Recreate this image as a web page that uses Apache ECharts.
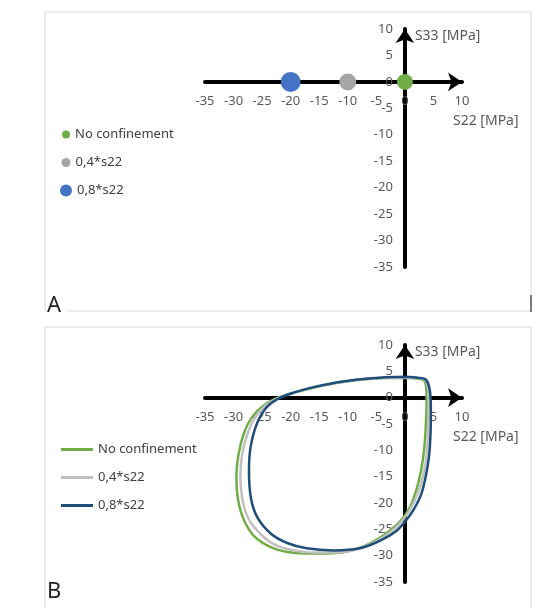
<!DOCTYPE html>
<html>
<head>
<meta charset="utf-8">
<script src="https://cdn.jsdelivr.net/npm/echarts@6/dist/echarts.min.js"></script>
<style>
html, body { margin: 0; padding: 0; background: #fff; }
#chart { width: 541px; height: 608px; }
</style>
</head>
<body>
<div id="chart"></div>
<script>
// series names (same for both panels)
var names = ['No confinement', '0,4*s22', '0,8*s22'];

// panel A : starting points of each load case
var startX = [0, -10, -20];
var startY = [0, 0, 0];

// panel B : failure envelopes
var greenX = [0, 2.5, 3.4, 3.75, 3.8, 3.75, 3.4, 2.8, 1.9, 0.8, -0.3, -1.5, -4.4, -7.9, -12, -16, -20.6, -23.5, -26.4, -28.2, -29.2, -29.5, -29.1, -28.2, -26.7, -24.5, -22.0, -18.9, -16, -13.1, -10.2, -7.3, -4.4, 0];
var greenY = [3.8, 3.6, 3.2, 1.8, 0, -3.3, -9.6, -14, -17.9, -21.0, -22.8, -24.2, -26.6, -28.5, -29.5, -29.6, -29.3, -28.4, -26.3, -23.2, -19.4, -15, -10.6, -6.8, -3.6, -1.3, 0.1, 1.1, 1.9, 2.55, 3.05, 3.45, 3.7, 3.8];

var greyX = [0, 2.5, 3.6, 4.05, 4.15, 4.15, 4.0, 3.6, 2.8, 1.6, 0.3, -1.5, -4.4, -7.9, -12, -16, -20.3, -23.3, -25.8, -27.6, -28.5, -28.8, -28.5, -27.6, -26.3, -24.3, -21.9, -18.9, -16, -13.1, -10.2, -7.3, -4.4, 0];
var greyY = [3.85, 3.7, 3.3, 1.9, 0, -3.2, -8, -12.5, -16.5, -19.8, -22.3, -24.6, -26.9, -28.6, -29.4, -29.4, -28.8, -27.6, -25.3, -22.5, -19, -15, -10.8, -7, -3.9, -1.4, 0.05, 1.12, 1.95, 2.6, 3.1, 3.5, 3.75, 3.85];

var blueX = [0, 2.5, 3.7, 4.25, 4.5, 4.55, 4.5, 4.25, 3.7, 2.8, 1.4, 0.2, -1.5, -4.4, -7.9, -12.5, -17.2, -20.6, -23.5, -25.9, -27.0, -27.3, -27.0, -25.9, -24.1, -21.8, -18.9, -16.0, -13.1, -10.2, -7.3, -4.4, 0];
var blueY = [3.95, 3.75, 3.4, 2.0, 0, -3, -6.5, -10.9, -14.7, -18.5, -21.5, -23.3, -25.3, -27.2, -28.6, -29.0, -28.6, -27.6, -25.8, -22.6, -18.8, -13.7, -9.3, -4.9, -1.7, 0, 1.15, 2.0, 2.65, 3.15, 3.55, 3.8, 3.95];

// axis range
var axMin = -35, axMax = 10, axStep = 5;

function pairs(xs, ys) {
	var out = [];
	for (var i = 0; i < xs.length; i++) {
		out.push([xs[i], ys[i]]);
	}
	return out;
}

var font = 'Noto Sans';
var textGrey = '#595959';
var colorsA = ['#70ad47', '#a5a5a5', '#4472c4'];
var colorsB = ['#70ad47', '#c0c0c0', '#1f4e79'];
var dotSize = [16, 17, 20];
var legendDot = [8, 9, 12];

// grid boxes, axes are pushed inwards so that they cross at 0
var grids = [
	{ left: 205, top: 29, width: 257, height: 238 },
	{ left: 205, top: 345, width: 257, height: 237 }
];
var zeroFrac = (0 - axMin) / (axMax - axMin);

function makeX(idx) {
	return {
		gridIndex: idx,
		type: 'value',
		position: 'bottom',
		offset: -grids[idx].height * zeroFrac,
		min: axMin,
		max: axMax,
		interval: axStep,
		axisLine: {
			onZero: false,
			lineStyle: { color: '#000', width: 4 },
			symbol: ['none', 'arrow'],
			symbolSize: [14, 14]
		},
		axisTick: { show: false },
		splitLine: { show: false },
		axisLabel: { color: textGrey, fontSize: 13, fontFamily: font, margin: 13, showMinLabel: true, showMaxLabel: true },
		name: 'S22 [MPa]',
		nameLocation: 'end',
		nameGap: -9,
		nameMoveOverlap: false,
		nameTextStyle: { color: textGrey, fontSize: 14, fontFamily: font, verticalAlign: 'top', lineHeight: 78 }
	};
}

function makeY(idx) {
	return {
		gridIndex: idx,
		type: 'value',
		position: 'left',
		offset: -grids[idx].width * zeroFrac,
		min: axMin,
		max: axMax,
		interval: axStep,
		axisLine: {
			onZero: false,
			lineStyle: { color: '#000', width: 4 },
			symbol: ['none', 'arrow'],
			symbolSize: [14, 14]
		},
		axisTick: { show: false },
		splitLine: { show: false },
		axisLabel: { color: textGrey, fontSize: 13, fontFamily: font, margin: 12, showMinLabel: true, showMaxLabel: true },
		name: 'S33 [MPa]',
		nameLocation: 'end',
		nameGap: -14,
		nameMoveOverlap: false,
		nameTextStyle: { color: textGrey, fontSize: 14, fontFamily: font, align: 'left', padding: [0, 0, 0, 10] }
	};
}

var series = [];
var legends = [];
//面板A 散点
for (var i = 0; i < names.length; i++) {
	series.push({
		name: names[i],
		type: 'scatter',
		xAxisIndex: 0,
		yAxisIndex: 0,
		symbolSize: dotSize[i],
		itemStyle: { color: colorsA[i], opacity: 1 },
		data: [[startX[i], startY[i]]]
	});
	legends.push({
		data: [{ name: names[i], icon: 'circle' }],
		left: 66 - legendDot[i] / 2,
		top: 128 + i * 28,
		padding: 0,
		itemWidth: legendDot[i],
		itemHeight: legendDot[i],
		itemGap: 0,
		textStyle: { color: '#404040', fontSize: 13, fontFamily: font }
	});
}
//面板B 曲线
var curvesX = [greenX, greyX, blueX];
var curvesY = [greenY, greyY, blueY];
var legendB = [];
for (var j = 0; j < names.length; j++) {
	series.push({
		name: names[j] + ' ',
		type: 'line',
		xAxisIndex: 1,
		yAxisIndex: 1,
		symbol: 'none',
		smooth: 0.35,
		lineStyle: { color: colorsB[j], width: 2.5 },
		itemStyle: { color: colorsB[j] },
		data: pairs(curvesX[j], curvesY[j])
	});
	legendB.push({ name: names[j] + ' ', icon: 'rect' });
}
legends.push({
	data: legendB,
	orient: 'vertical',
	left: 61,
	top: 443,
	padding: 0,
	itemWidth: 32,
	itemHeight: 3,
	itemGap: 15,
	formatter: function (n) { return n.trim(); },
	textStyle: { color: '#404040', fontSize: 13, fontFamily: font }
});

var chart = echarts.init(document.getElementById('chart'));
chart.setOption({
	backgroundColor: '#fff',
	animation: false,
	graphic: [
		{ type: 'rect', shape: { x: 45, y: 12, width: 486, height: 299 }, style: { fill: 'none', stroke: '#d9d9d9', lineWidth: 1 }, z: -10 },
		{ type: 'rect', shape: { x: 45, y: 327, width: 486, height: 300 }, style: { fill: 'none', stroke: '#d9d9d9', lineWidth: 1 }, z: -10 },
		{ type: 'rect', shape: { x: 46, y: 295, width: 22, height: 20 }, style: { fill: '#fff' }, z: -9 },
		{ type: 'line', shape: { x1: 531, y1: 295, x2: 531, y2: 312 }, style: { stroke: '#555', lineWidth: 1.5 }, z: -8 },
		{ type: 'text', left: 47, top: 295, style: { text: 'A', fill: '#222', font: '22px ' + font }, z: -8 },
		{ type: 'text', left: 47, top: 581, style: { text: 'B', fill: '#222', font: '22px ' + font }, z: -8 }
	],
	legend: legends,
	grid: grids,
	xAxis: [makeX(0), makeX(1)],
	yAxis: [makeY(0), makeY(1)],
	series: series
});
</script>
</body>
</html>
